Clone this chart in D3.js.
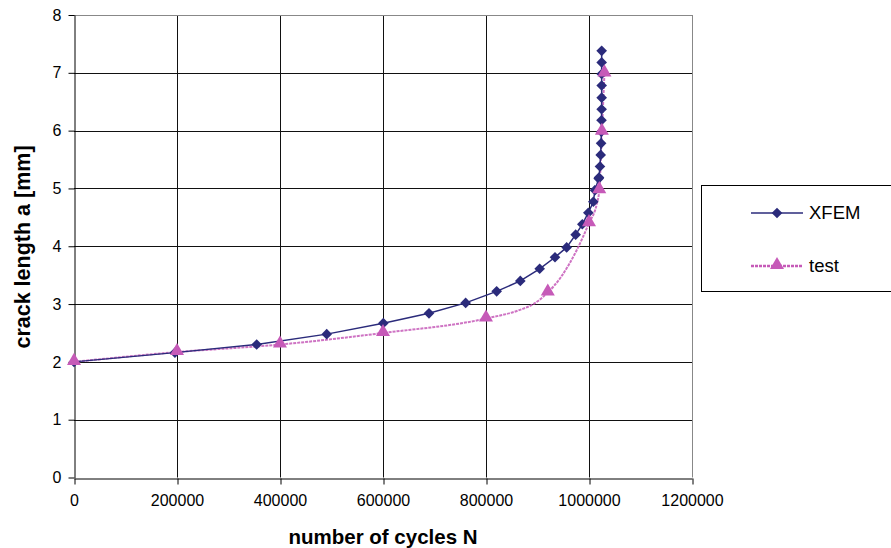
<!DOCTYPE html>
<html>
<head>
<meta charset="utf-8">
<script src="https://cdn.jsdelivr.net/npm/d3@7"></script>
<style>
  body { margin: 0; background: #fff; }
  svg { display: block; font-family: "Liberation Sans", Arial, sans-serif; }
</style>
</head>
<body>
<div id="chart"></div>
<script>
// XFEM simulation - one marker per point
const xfemCycles = [0, 196000, 354700, 490700, 600600, 689300, 760500, 820700, 866600, 904200,
  934000, 956600, 974100, 987000, 998700, 1008400, 1011600, 1018800, 1019400, 1021300, 1022700,
  1023500, 1024000, 1024300, 1024500, 1024600, 1024600, 1024600, 1024600, 1024600];
const xfemLength = [2.0, 2.16, 2.30, 2.48, 2.67, 2.84, 3.02, 3.22, 3.40, 3.61,
  3.81, 3.98, 4.20, 4.38, 4.58, 4.77, 4.97, 5.17, 5.19, 5.38, 5.58,
  5.78, 5.98, 6.18, 6.37, 6.57, 6.78, 6.98, 7.18, 7.38];

// test curve - dense line, markers only on some points
const testCycles = [0, 200000, 400000, 600000, 800000, 866000, 892000, 920000, 945000, 976000,
  1000000, 1015000, 1020000, 1025000, 1030000];
const testLength = [2.0, 2.17, 2.30, 2.50, 2.75, 2.90, 3.00, 3.20, 3.46, 3.93,
  4.40, 4.73, 4.97, 5.98, 6.99];
const testMarked = [true, true, true, true, true, false, false, true, false, false,
  true, false, true, true, true];

const xTicks = [0, 200000, 400000, 600000, 800000, 1000000, 1200000];
const yTicks = [0, 1, 2, 3, 4, 5, 6, 7, 8];
const seriesNames = ["XFEM", "test"];

const W = 891, H = 548;
const xfemColor = "#2b2b7b", testColor = "#c65ab8";

let svg = d3.select("#chart").append("svg").attr("width", W).attr("height", H);

let x = d3.scaleLinear().domain([0, 1200000]).range([74, 692]);
let y = d3.scaleLinear().domain([0, 8]).range([477.5, 15]);

// grid
svg.append("g").selectAll("line").data(yTicks.slice(1, -1)).join("line")
  .attr("x1", x(0)).attr("x2", x(1200000))
  .attr("y1", d => Math.round(y(d)) + 0.5).attr("y2", d => Math.round(y(d)) + 0.5)
  .attr("stroke", "#111").attr("stroke-width", 1);
svg.append("g").selectAll("line").data(xTicks.slice(1, -1)).join("line")
  .attr("y1", y(0)).attr("y2", y(8))
  .attr("x1", d => Math.round(x(d)) + 0.5).attr("x2", d => Math.round(x(d)) + 0.5)
  .attr("stroke", "#111").attr("stroke-width", 1);

// plot frame (top and right grey)
svg.append("line").attr("x1", x(0)).attr("x2", x(1200000))
  .attr("y1", Math.round(y(8)) + 0.5).attr("y2", Math.round(y(8)) + 0.5).attr("stroke", "#888");
svg.append("line").attr("x1", Math.round(x(1200000)) + 0.5).attr("x2", Math.round(x(1200000)) + 0.5)
  .attr("y1", y(0)).attr("y2", y(8)).attr("stroke", "#888");

// axes
let xAxis = d3.axisBottom(x).tickValues(xTicks).tickFormat(d3.format("d"))
  .tickSizeInner(6).tickSizeOuter(0).tickPadding(10);
let gx = svg.append("g").attr("transform", `translate(0,${Math.round(y(0)) + 0.5})`).call(xAxis);
gx.select(".domain").attr("stroke", "#000");
gx.selectAll(".tick line").attr("stroke", "#000").attr("transform", "translate(0.5,0)");
gx.selectAll("text").attr("font-size", 16).attr("fill", "#000").attr("font-family", "Liberation Sans, Arial");

let yAxis = d3.axisLeft(y).tickValues(yTicks).tickSizeInner(6).tickSizeOuter(0).tickPadding(7);
let gy = svg.append("g").attr("transform", `translate(${Math.round(x(0)) + 0.5},0)`).call(yAxis);
gy.select(".domain").attr("stroke", "#000");
gy.selectAll(".tick line").attr("stroke", "#000");
gy.selectAll("text").attr("font-size", 16).attr("fill", "#000").attr("font-family", "Liberation Sans, Arial");

// axis titles
svg.append("text").attr("x", 383).attr("y", 544).attr("text-anchor", "middle")
  .attr("font-weight", "bold").attr("font-size", 20.5).text("number of cycles N");
svg.append("text").attr("transform", "translate(30,247) rotate(-90)").attr("text-anchor", "middle")
  .attr("font-weight", "bold").attr("font-size", 21.5).text("crack length a [mm]");

// test series
let testData = testCycles.map((c, i) => ({ c: c, a: testLength[i], m: testMarked[i] }));
svg.append("path").datum(testData)
  .attr("fill", "none").attr("stroke", testColor).attr("stroke-width", 2)
  .attr("stroke-dasharray", "3,1").attr("stroke-opacity", 0.85)
  .attr("d", d3.line().x(d => x(d.c)).y(d => y(d.a)).curve(d3.curveMonotoneX));

// xfem series
let xfemData = xfemCycles.map((c, i) => ({ c: c, a: xfemLength[i] }));
svg.append("path").datum(xfemData)
  .attr("fill", "none").attr("stroke", xfemColor).attr("stroke-width", 1.5)
  .attr("d", d3.line().x(d => x(d.c)).y(d => y(d.a)));

let diamond = d3.symbol().type(d3.symbolDiamond2).size(72);
let triangle = d3.symbol().type(d3.symbolTriangle).size(85);

svg.append("g").selectAll("path").data(xfemData).join("path")
  .attr("d", diamond).attr("fill", xfemColor)
  .attr("transform", d => `translate(${x(d.c)},${y(d.a)})`);

svg.append("g").selectAll("path").data(testData.filter(d => d.m)).join("path")
  .attr("d", triangle).attr("fill", testColor)
  .attr("transform", d => `translate(${x(d.c)},${y(d.a) - 1})`);

// legend
let lg = svg.append("g");
lg.append("rect").attr("x", 701.5).attr("y", 185.5).attr("width", 200).attr("height", 106)
  .attr("fill", "#fff").attr("stroke", "#000");
let rows = [
  { name: seriesNames[0], y: 213, color: xfemColor, sym: diamond, dash: null, w: 1.5 },
  { name: seriesNames[1], y: 266, color: testColor, sym: triangle, dash: "3,1", w: 2.5 }
];
rows.forEach(r => {
  lg.append("line").attr("x1", 751).attr("x2", 803).attr("y1", r.y).attr("y2", r.y)
    .attr("stroke", r.color).attr("stroke-width", r.w).attr("stroke-dasharray", r.dash);
  lg.append("path").attr("d", r.sym).attr("fill", r.color)
    .attr("transform", `translate(777,${r.y - (r.sym === triangle ? 1 : 0)})`);
  lg.append("text").attr("x", 809).attr("y", r.y).attr("dy", "0.35em")
    .attr("font-size", 18.5).text(r.name);
});
</script>
</body>
</html>
